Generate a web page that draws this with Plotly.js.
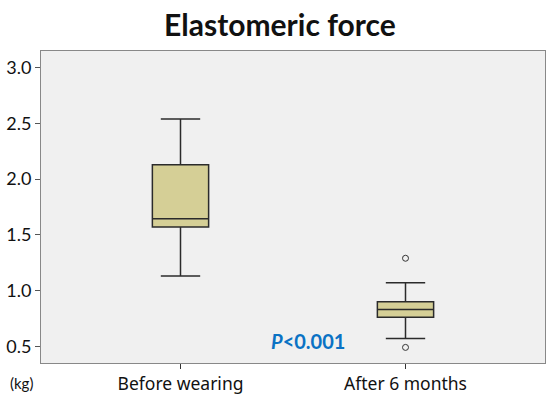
<!DOCTYPE html>
<html>
<head>
<meta charset="utf-8">
<script src="https://cdn.plot.ly/plotly-3.0.1.min.js"></script>
<style>body{margin:0;background:#fff}</style>
</head>
<body>
<div id="graph"></div>
<script>
// groups and box stats (kg)
var groups = ['Before wearing', 'After 6 months'];
var lowerWhisker = [1.13, 0.57];
var q1 = [1.57, 0.76];
var median = [1.645, 0.83];
var q3 = [2.13, 0.90];
var upperWhisker = [2.54, 1.07];
// outliers only in the second group
var outX = ['After 6 months', 'After 6 months'];
var outY = [1.29, 0.49];

var boxTrace = {
  type: 'box',
  x: groups,
  q1: q1,
  median: median,
  q3: q3,
  lowerfence: lowerWhisker,
  upperfence: upperWhisker,
  width: 0.25,
  whiskerwidth: 0.7,
  fillcolor: '#d5cf96',
  line: {color: '#2b2b2b', width: 1.5},
  hoverinfo: 'skip',
  showlegend: false
};

var outTrace = {
  type: 'scatter',
  mode: 'markers',
  x: outX,
  y: outY,
  marker: {symbol: 'circle-open', size: 6, color: '#333', line: {width: 1}},
  showlegend: false
};

var layout = {
  width: 550,
  height: 398,
  margin: {l: 41, r: 5, t: 51, b: 35},
  paper_bgcolor: 'white',
  plot_bgcolor: '#f0f0f0',
  title: {
    text: '<b>Elastomeric force</b>',
    xref: 'paper', x: 0.474, xanchor: 'center',
    yref: 'container', y: 0.935, yanchor: 'middle',
    font: {family: 'Lato, "Open Sans", sans-serif', size: 30, color: '#111'}
  },
  xaxis: {
    type: 'category',
    range: [-0.62, 1.62],
    showline: true, mirror: true, linecolor: '#888', linewidth: 1,
    showgrid: false, zeroline: false,
    ticks: 'outside', ticklen: 5, tickcolor: '#333',
    tickfont: {family: '"Noto Sans", sans-serif', size: 17.5, color: '#111'}
  },
  yaxis: {
    range: [0.35, 3.15],
    tickvals: [0.5, 1.0, 1.5, 2.0, 2.5, 3.0],
    ticktext: ['0.5', '1.0', '1.5', '2.0', '2.5', '3.0'],
    showline: true, mirror: true, linecolor: '#888', linewidth: 1,
    showgrid: false, zeroline: false,
    ticks: 'outside', ticklen: 5, tickcolor: '#555',
    tickfont: {family: 'Lato, "Open Sans", sans-serif', size: 18, color: '#111'}
  },
  annotations: [
    {
      text: '<b><i>P</i><0.001</b>',
      xref: 'paper', yref: 'paper', x: 0.53, y: 0.07,
      xanchor: 'center', yanchor: 'middle', showarrow: false,
      font: {family: 'Lato, "Open Sans", sans-serif', size: 20, color: '#0a72c4'}
    },
    {
      text: '(kg)',
      xref: 'paper', yref: 'paper', x: -0.038, y: -0.03,
      xanchor: 'center', yanchor: 'top', showarrow: false,
      font: {family: 'Lato, "Open Sans", sans-serif', size: 15, color: '#111'}
    }
  ]
};

Plotly.newPlot('graph', [boxTrace, outTrace], layout, {displayModeBar: false});
</script>
</body>
</html>
